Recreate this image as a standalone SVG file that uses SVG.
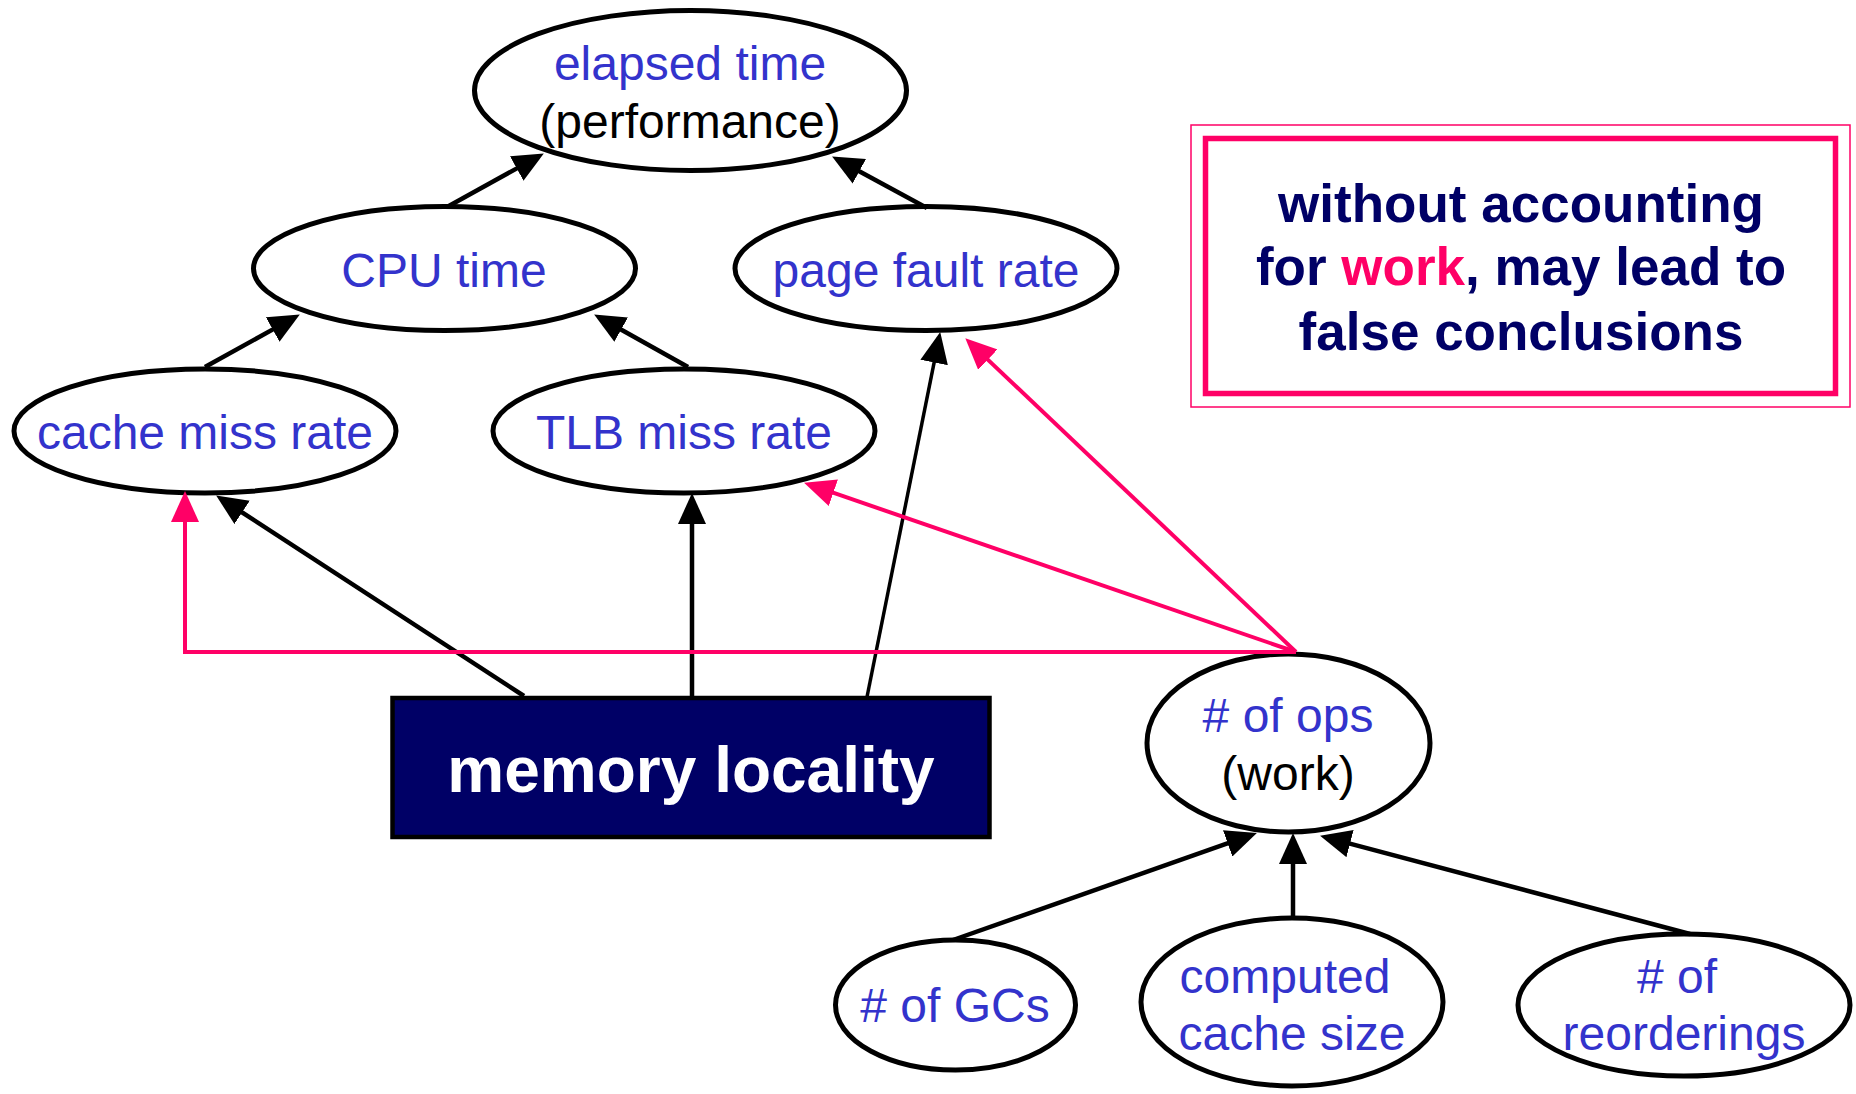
<svg xmlns="http://www.w3.org/2000/svg" width="1856" height="1094" viewBox="0 0 1856 1094">
  <style>
    .node { fill: #ffffff; stroke: #000000; stroke-width: 5; }
    .lbl { font-family: "Liberation Sans", Arial, sans-serif; font-size: 48px; text-anchor: middle; fill: #3333cc; }
    .sub { fill: #000000; }
    .edge { fill: none; stroke: #000000; stroke-width: 4.5; }
    .edge-w { fill: none; stroke: #ff0066; stroke-width: 4; }
    .note { font-family: "Liberation Sans", Arial, sans-serif; font-size: 53px; font-weight: bold; text-anchor: middle; fill: #000066; }
  </style>
  <defs>
    <marker id="ah" markerUnits="userSpaceOnUse" markerWidth="31" markerHeight="28" refX="8" refY="14" orient="auto">
      <path d="M0,0 L31,14 L0,28 z" fill="#000000"/>
    </marker>
    <marker id="ah-w" markerUnits="userSpaceOnUse" markerWidth="31" markerHeight="28" refX="8" refY="14" orient="auto">
      <path d="M0,0 L31,14 L0,28 z" fill="#ff0066"/>
    </marker>
  </defs>

  <rect width="1856" height="1094" fill="#ffffff"/>

  <g id="elapsed-time">
    <ellipse class="node" cx="690.5" cy="90.5" rx="216" ry="80"/>
    <text class="lbl" x="690" y="80">elapsed time</text>
    <text class="lbl sub" x="690" y="138">(performance)</text>
  </g>
  <g id="cpu-time">
    <ellipse class="node" cx="444.5" cy="268.5" rx="191" ry="62"/>
    <text class="lbl" x="444" y="287">CPU time</text>
  </g>
  <g id="page-fault-rate">
    <ellipse class="node" cx="926" cy="268.5" rx="191" ry="62"/>
    <text class="lbl" x="926" y="287">page fault rate</text>
  </g>
  <g id="cache-miss-rate">
    <ellipse class="node" cx="205" cy="431" rx="191" ry="62"/>
    <text class="lbl" x="205" y="449">cache miss rate</text>
  </g>
  <g id="tlb-miss-rate">
    <ellipse class="node" cx="684" cy="431" rx="191" ry="62"/>
    <text class="lbl" x="684" y="449">TLB miss rate</text>
  </g>
  <g id="memory-locality">
    <rect x="392.5" y="698" width="597" height="139" fill="#000066" stroke="#000000" stroke-width="4.5"/>
    <text x="691" y="792" style="font-family:'Liberation Sans', Arial, sans-serif; font-size:64px; font-weight:bold; text-anchor:middle; fill:#ffffff">memory locality</text>
  </g>
  <g id="num-ops">
    <ellipse class="node" cx="1288.5" cy="743" rx="141.5" ry="89"/>
    <text class="lbl" x="1288" y="732"># of ops</text>
    <text class="lbl sub" x="1288" y="790">(work)</text>
  </g>
  <g id="num-gcs">
    <ellipse class="node" cx="955.5" cy="1005" rx="120" ry="65"/>
    <text class="lbl" x="955" y="1022"># of GCs</text>
  </g>
  <g id="computed-cache-size">
    <ellipse class="node" cx="1292" cy="1002" rx="151" ry="84"/>
    <text class="lbl" x="1285" y="993">computed</text>
    <text class="lbl" x="1292" y="1050">cache size</text>
  </g>
  <g id="num-reorderings">
    <ellipse class="node" cx="1684" cy="1005" rx="166" ry="71"/>
    <text class="lbl" x="1677" y="993"># of</text>
    <text class="lbl" x="1684" y="1050">reorderings</text>
  </g>

  <g id="callout">
    <rect x="1191" y="125" width="659" height="282" fill="none" stroke="#ff0066" stroke-width="1.5"/>
    <rect x="1205.5" y="138.5" width="630" height="255" fill="none" stroke="#ff0066" stroke-width="5.5"/>
    <text class="note" x="1521" y="222">without accounting</text>
    <text class="note" x="1521" y="285">for <tspan fill="#ff0066">work</tspan>, may lead to</text>
    <text class="note" x="1521" y="350">false conclusions</text>
  </g>

  <g id="connectors">
    <line class="edge" x1="447" y1="207" x2="523.7" y2="164.6" marker-end="url(#ah)"/>
    <line class="edge" x1="927" y1="208" x2="852.3" y2="167.5" marker-end="url(#ah)"/>
    <line class="edge" x1="205" y1="367" x2="279.7" y2="325.6" marker-end="url(#ah)"/>
    <line class="edge" x1="688" y1="367" x2="614.2" y2="325.7" marker-end="url(#ah)"/>
    <line class="edge" x1="524" y1="696" x2="235.4" y2="508" marker-end="url(#ah)"/>
    <line class="edge" x1="692" y1="697" x2="692" y2="516" marker-end="url(#ah)"/>
    <line class="edge" x1="867" y1="697" x2="935.7" y2="354.6" marker-end="url(#ah)" style="stroke-width:3.5"/>
    <line class="edge-w" x1="1296" y1="652" x2="825.8" y2="490.2" marker-end="url(#ah-w)"/>
    <line class="edge-w" x1="1296" y1="652" x2="982" y2="354.1" marker-end="url(#ah-w)"/>
    <polyline class="edge-w" points="1296,652 185,652 185,514" marker-end="url(#ah-w)"/>
    <line class="edge" x1="953" y1="940" x2="1235.2" y2="840.7" marker-end="url(#ah)"/>
    <line class="edge" x1="1293" y1="917" x2="1293" y2="856" marker-end="url(#ah)"/>
    <line class="edge" x1="1690" y1="934" x2="1342.3" y2="841.6" marker-end="url(#ah)"/>
  </g>
</svg>
